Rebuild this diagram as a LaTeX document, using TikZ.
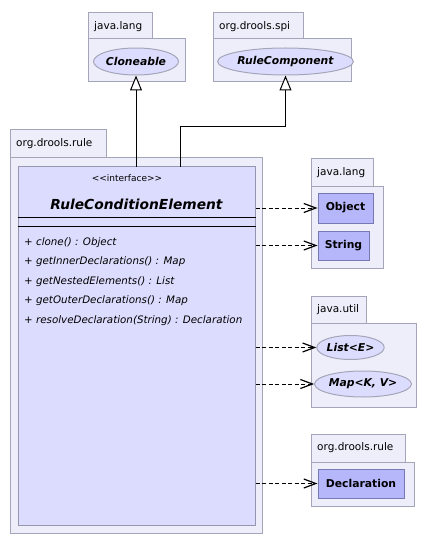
\documentclass[tikz,border=0pt]{standalone}
\usepackage{fontspec}
\setmainfont{DejaVu Sans}
\usetikzlibrary{arrows.meta,shapes.geometric}
\definecolor{pkgfill}{RGB}{238,238,251}
\definecolor{pkgline}{RGB}{165,165,185}
\definecolor{clsfill}{RGB}{220,220,254}
\definecolor{clsline}{RGB}{150,150,175}
\definecolor{boxfill}{RGB}{182,182,250}
\definecolor{boxline}{RGB}{120,120,180}
\tikzset{
  pkgbox/.style={draw=pkgline,fill=pkgfill,line width=1pt},
  tablabel/.style={anchor=west,inner sep=0pt,font=\fontsize{10.5}{12}\selectfont},
  ifell/.style={ellipse,draw=pkgline,fill=clsfill,line width=1pt,inner sep=0pt,
    font=\fontsize{10.8}{12}\selectfont\bfseries\itshape},
  clsbox/.style={rectangle,draw=boxline,fill=boxfill,line width=1pt,inner sep=0pt,
    font=\fontsize{10.8}{12}\selectfont\bfseries},
  meth/.style={anchor=west,inner sep=0pt,font=\fontsize{10.3}{12}\selectfont\itshape},
  gen/.style={line width=1pt,-{Triangle[open,length=15pt,width=12pt,fill=white]}},
  dep/.style={line width=0.9pt,dash pattern=on 4pt off 2.5pt,
    -{Straight Barb[length=12pt,width=9pt,line width=1.2pt]}},
}
\begin{document}
\begin{tikzpicture}[x=1pt,y=-1pt]
\useasboundingbox (0,0) rectangle (426,548);
% --- top packages
\draw[pkgbox] (88,13) rectangle (152,39);
\draw[pkgbox] (88,39) rectangle (185,82);
\node[tablabel] (tl1) at (94,26.5) {java.lang};
\node[ifell,minimum width=82pt,minimum height=27pt] (clo) at (136,61.5) {Cloneable};

\draw[pkgbox] (213,13) rectangle (303,39);
\draw[pkgbox] (213,39) rectangle (351,82);
\node[tablabel] (tl2) at (219,26.5) {org.drools.spi};
\node[ifell,minimum width=127pt,minimum height=27pt] (rc) at (285.5,61.5) {RuleComponent};

% --- main package
\draw[pkgbox] (10,130) rectangle (106,158);
\draw[pkgbox] (10,158) rectangle (262,533);
\node[tablabel] (tl3) at (16,144) {org.drools.rule};
\node[rectangle,draw=clsline,fill=clsfill,line width=1pt,minimum width=237pt,minimum height=358pt,inner sep=0pt] (cls) at (136.5,346) {};
\node[inner sep=0pt,font=\fontsize{9}{11}\selectfont] (ster) at (127,178) {{<}{<}interface{>}{>}};
\node[inner sep=0pt,font=\fontsize{13.8}{15}\selectfont\bfseries\itshape] (cname) at (136.5,204) {RuleConditionElement};
\draw[line width=1pt] (cls.west |- 0,217) -- (cls.east |- 0,217);
\draw[line width=1pt] (cls.west |- 0,226) -- (cls.east |- 0,226);
\node[meth] (m1) at (24,243) {+ clone() : Object};
\node[meth] (m2) at (24,262) {+ getInnerDeclarations() : Map};
\node[meth] (m3) at (24,282) {+ getNestedElements() : List};
\node[meth] (m4) at (24,301) {+ getOuterDeclarations() : Map};
\node[meth] (m5) at (24,321) {+ resolveDeclaration(String) : Declaration};

% --- right packages
\draw[pkgbox] (311,159) rectangle (373,186);
\draw[pkgbox] (311,186) rectangle (383,268);
\node[tablabel] (tl4) at (317,172.5) {java.lang};
\node[clsbox,minimum width=55pt,minimum height=30pt] (obj) at (345.5,208) {Object};
\node[clsbox,minimum width=51pt,minimum height=29pt] (str) at (343.5,245.5) {String};

\draw[pkgbox] (311,296) rectangle (366,323);
\draw[pkgbox] (311,323) rectangle (416,407);
\node[tablabel] (tl5) at (317,309.5) {java.util};
\node[ifell,minimum width=65pt,minimum height=24pt] (lst) at (350.5,347.5) {List<E>};
\node[ifell,minimum width=90pt,minimum height=26pt] (map) at (363,384) {Map<K, V>};

\draw[pkgbox] (311,434) rectangle (405,462);
\draw[pkgbox] (311,462) rectangle (414,506);
\node[tablabel] (tl6) at (317,448) {org.drools.rule};
\node[clsbox,minimum width=86pt,minimum height=29pt] (decl) at (361,483.5) {Declaration};

% --- generalizations
\coordinate (g1) at (136,167);
\coordinate (g2) at (180,167);
\draw[gen] (g1) -- (clo.south);
\draw[gen] (g2) |- (285.5,127) -- (rc.south);

% --- dependencies
\draw[dep] (cls.east |- obj.west) -- (obj.west);
\draw[dep] (cls.east |- str.west) -- (str.west);
\draw[dep] (cls.east |- lst.west) -- (lst.west);
\draw[dep] (cls.east |- map.west) -- (map.west);
\draw[dep] (cls.east |- decl.west) -- (decl.west);
\end{tikzpicture}
\end{document}
